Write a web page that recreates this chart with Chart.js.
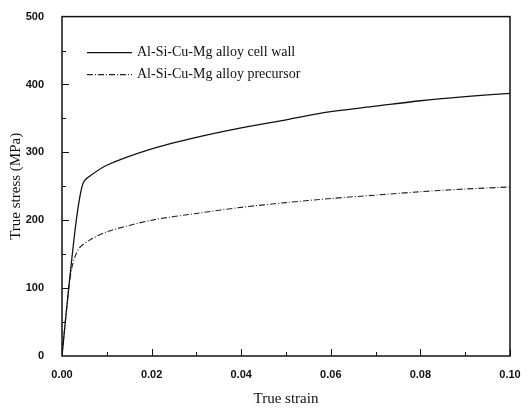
<!DOCTYPE html>
<html>
<head>
<meta charset="utf-8">
<script src="https://cdn.jsdelivr.net/npm/chart.js@4/dist/chart.umd.min.js"></script>
<style>
  html, body { margin: 0; padding: 0; background: #fff; }
  #wrap { width: 528px; height: 413px; }
</style>
</head>
<body>
<div id="wrap"><canvas id="stressChart" width="528" height="413"></canvas></div>
<script>
// values
const wallStrain = [0, 0.0015, 0.003, 0.004, 0.0048, 0.006, 0.01, 0.02, 0.03, 0.04, 0.05, 0.06, 0.07, 0.08, 0.09, 0.10]
const wallStress = [0, 100, 190, 235, 256, 264, 281, 305, 322, 336, 348, 360, 368, 376, 382, 387]

const precStrain = [0, 0.0015, 0.0022, 0.003, 0.004, 0.006, 0.01, 0.02, 0.03, 0.04, 0.05, 0.06, 0.07, 0.08, 0.09, 0.10]
const precStress = [0, 100, 130, 148, 160, 170, 183, 200, 210, 219, 226, 232, 237, 242, 246, 249]

const seriesLabels = ['Al-Si-Cu-Mg alloy cell wall', 'Al-Si-Cu-Mg alloy precursor']
const xTicks = [0, 0.02, 0.04, 0.06, 0.08, 0.10]
const yTicks = [0, 100, 200, 300, 400, 500]

const toPoints = (xs, ys) => xs.map((x, i) => ({x: x, y: ys[i]}))

// frame + inward tick marks + legend inside the plot
const framePlugin = {
    id: 'frame',
    afterDatasetsDraw: chart => {
        const ctx = chart.ctx
        const area = chart.chartArea
        const xs = chart.scales.x
        const ys = chart.scales.y
        ctx.save()
        ctx.strokeStyle = '#111'
        ctx.lineWidth = 1.5
        ctx.strokeRect(area.left, area.top, area.right - area.left, area.bottom - area.top)

        ctx.lineWidth = 1
        for (let v = 0.01; v < 0.1; v += 0.01) {
            const px = Math.round(xs.getPixelForValue(v)) + 0.5
            const major = Math.round(v * 100) % 2 === 0
            ctx.beginPath()
            ctx.moveTo(px, area.bottom)
            ctx.lineTo(px, area.bottom - (major ? 7 : 4))
            ctx.stroke()
        }
        for (let v = 50; v < 500; v += 50) {
            const py = Math.round(ys.getPixelForValue(v)) + 0.5
            const major = v % 100 === 0
            ctx.beginPath()
            ctx.moveTo(area.left, py)
            ctx.lineTo(area.left + (major ? 7 : 4), py)
            ctx.stroke()
        }

        // legend
        ctx.font = '14px "Liberation Serif", "Times New Roman", serif'
        ctx.textBaseline = 'middle'
        ctx.fillStyle = '#111'
        chart.data.datasets.forEach((ds, i) => {
            const y = area.top + 36 + i * 22
            const x0 = area.left + 25
            ctx.strokeStyle = ds.borderColor
            ctx.lineWidth = ds.borderWidth
            ctx.setLineDash(ds.borderDash || [])
            ctx.beginPath()
            ctx.moveTo(x0, y)
            ctx.lineTo(x0 + 45, y)
            ctx.stroke()
            ctx.setLineDash([])
            ctx.fillText(ds.label, x0 + 50, y)
        })
        ctx.restore()
    }
}

const ctx = document.getElementById('stressChart')

const stressChart = new Chart(ctx, {
    type: 'line',
    data: {
        datasets: [{
            label: seriesLabels[0],
            data: toPoints(wallStrain, wallStress),
            borderColor: '#111',
            borderWidth: 1.3,
            pointRadius: 0,
            tension: 0.3,
            fill: false,
        }, {
            label: seriesLabels[1],
            data: toPoints(precStrain, precStress),
            borderColor: '#222',
            borderWidth: 1.1,
            borderDash: [6, 2, 1, 2],
            pointRadius: 0,
            tension: 0.3,
            fill: false,
        }]
    },
    options: {
        responsive: false,
        animation: false,
        layout: { padding: { top: 14, right: 18, left: 0, bottom: 5 } },
        plugins: {
            legend: { display: false },
            tooltip: { enabled: false },
        },
        scales: {
            x: {
                type: 'linear',
                min: 0,
                max: 0.1,
                afterBuildTicks: scale => { scale.ticks = xTicks.map(v => ({value: v})) },
                afterFit: scale => { scale.height = 52 },
                grid: { display: false },
                border: { display: false },
                ticks: {
                    color: '#111',
                    padding: 4,
                    maxRotation: 0,
                    font: { family: '"Liberation Sans", Arial, sans-serif', size: 11, weight: 'bold' },
                    callback: v => v.toFixed(2),
                },
                title: {
                    display: true,
                    text: 'True strain',
                    color: '#111',
                    padding: { top: 4, bottom: 0 },
                    font: { family: '"Liberation Serif", "Times New Roman", serif', size: 15 },
                },
            },
            y: {
                type: 'linear',
                min: 0,
                max: 500,
                afterBuildTicks: scale => { scale.ticks = yTicks.map(v => ({value: v})) },
                afterFit: scale => { scale.width = 62 },
                grid: { display: false },
                border: { display: false },
                ticks: {
                    color: '#111',
                    padding: 10,
                    font: { family: '"Liberation Sans", Arial, sans-serif', size: 11, weight: 'bold' },
                },
                title: {
                    display: true,
                    text: 'True stress (MPa)',
                    color: '#111',
                    padding: { top: 7, bottom: 0 },
                    font: { family: '"Liberation Serif", "Times New Roman", serif', size: 15 },
                },
            }
        }
    },
    plugins: [framePlugin]
})
</script>
</body>
</html>
